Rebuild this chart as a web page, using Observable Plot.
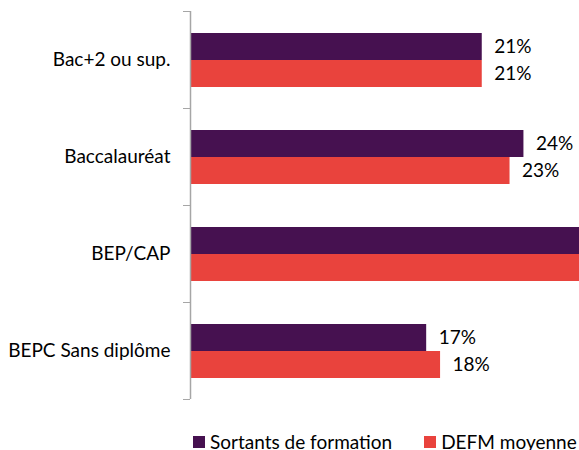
<!DOCTYPE html>
<html>
<head>
<meta charset="utf-8">
<script src="https://cdn.jsdelivr.net/npm/d3@7"></script>
<script src="https://cdn.jsdelivr.net/npm/@observablehq/plot@0.6"></script>
<style>
  html, body { margin: 0; padding: 0; background: #fff; overflow: hidden; }
  #chart svg { display: block; }
  .legend { display: flex; align-items: center; margin-left: 193px; margin-top: 12px; height: 19px; line-height: 19px;
            font-family: Lato, "Open Sans", sans-serif; font-size: 19px; color: #000; white-space: nowrap; }
  .legend .item { display: flex; align-items: center; }
  .legend .sw { width: 12px; height: 12px; margin-right: 5px; }
</style>
</head>
<body>
<div id="chart"></div>
<script>
const categories = ["Bac+2 ou sup.", "Baccalauréat", "BEP/CAP", "BEPC Sans diplôme"];
const series = ["Sortants de formation", "DEFM moyenne"];
const sortants = [21, 24, 38, 17];
const defm = [21, 23, 38, 18];
const colors = ["#461150", "#E9433D"];
const xMax = 28; // visible extent of the axis (longer bars are cut at the edge)

const data = categories.flatMap((c, i) => [
  {cat: c, series: series[0], value: sortants[i]},
  {cat: c, series: series[1], value: defm[i]}
]);

const chart = Plot.plot({
  width: 579,
  height: 420,
  marginLeft: 190,
  marginRight: 0,
  marginTop: 11,
  marginBottom: 21,
  x: {domain: [0, xMax], axis: null},
  y: {domain: series, paddingInner: 0, paddingOuter: 0.764, axis: null},
  fy: {domain: categories, padding: 0, label: null},
  color: {domain: series, range: colors},
  style: {fontFamily: "Lato, 'Open Sans', sans-serif", fontSize: "19px", color: "#000", background: "#fff"},
  marks: [
    Plot.barX(data, {x: "value", y: "series", fy: "cat", fill: "series", clip: true}),
    Plot.text(data, {filter: d => d.value < xMax, x: "value", y: "series", fy: "cat", text: d => d.value + "%", textAnchor: "start", dx: 12, clip: true, fontSize: 19, fill: "#000"}),
    Plot.ruleX([0], {stroke: "#a6a6a6", strokeWidth: 1.5}),
    Plot.axisFy({anchor: "left", tickSize: 0, tickPadding: 20, label: null, fontSize: 19, fill: "#000"}),
    Plot.axisFy({anchor: "left", tickSize: 7, tickFormat: () => "", dy: -48.5, label: null, stroke: "#a6a6a6"}),
    Plot.axisFy([categories[categories.length - 1]], {anchor: "left", tickSize: 7, tickFormat: () => "", dy: 48.5, label: null, stroke: "#a6a6a6"})
  ]
});
document.getElementById("chart").appendChild(chart);

const legend = document.createElement("div");
legend.className = "legend";
series.forEach((s, i) => {
  const item = document.createElement("div");
  item.className = "item";
  if (i > 0) item.style.marginLeft = "32px";
  const sw = document.createElement("span");
  sw.className = "sw";
  sw.style.background = colors[i];
  const t = document.createElement("span");
  t.textContent = s;
  item.appendChild(sw);
  item.appendChild(t);
  legend.appendChild(item);
});
document.getElementById("chart").appendChild(legend);
</script>
</body>
</html>
